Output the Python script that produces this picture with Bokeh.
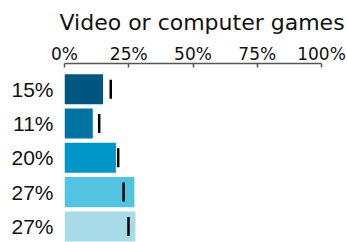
from bokeh.plotting import figure
from bokeh.models import Range1d, FixedTicker
from bokeh.embed import file_html
from bokeh.resources import INLINE

title_text = "Video or computer games"
labels = ["15%", "11%", "20%", "27%", "27%"]
values = [15, 11, 20, 27.2, 27.6]
markers = [18.0, 13.5, 20.9, 23.0, 24.9]
colors = ["#00567f", "#0073a5", "#0096c8", "#52c3e1", "#a8dbe8"]
x_ticks = [0, 25, 50, 75, 100]
x_tick_labels = ["0%", "25%", "50%", "75%", "100%"]

idx = list(range(len(values)))

p = figure(width=347, height=242, output_backend="svg", toolbar_location=None,
           x_range=Range1d(0, 100), y_range=Range1d(4.47, -0.753),
           x_axis_location="above", min_border_left=64, min_border_right=26,
           min_border_bottom=0, min_border_top=63)

p.hbar(y=idx, left=0, right=values, height=0.876, fill_color=colors, line_color=None)
p.rect(x=markers, y=idx, width=2.5, height=19, width_units="screen", height_units="screen",
       fill_color="black", line_color=None)

p.title.text = title_text
p.title.text_font = "DejaVu Sans"
p.title.text_font_size = "22px"
p.title.text_font_style = "normal"
p.title.text_color = "#111111"
p.title.align = "left"
p.title.offset = -5
p.title.standoff = 12

xa = p.xaxis[0]
xa.ticker = FixedTicker(ticks=x_ticks)
xa.major_label_overrides = {t: l for t, l in zip(x_ticks, x_tick_labels)}
xa.major_label_text_font = "DejaVu Sans"
xa.major_label_text_font_size = "17px"
xa.major_label_text_color = "#111111"
xa.axis_line_color = "#555555"
xa.axis_line_width = 1.5
xa.major_tick_line_color = "#555555"
xa.major_tick_line_width = 1.5
xa.major_tick_in = 4
xa.major_tick_out = 0
xa.minor_tick_line_color = None
xa.major_label_standoff = 0

ya = p.yaxis[0]
ya.ticker = FixedTicker(ticks=idx)
ya.major_label_overrides = {i: l for i, l in zip(idx, labels)}
ya.major_label_text_font = "Liberation Sans"
ya.major_label_text_font_size = "21px"
ya.major_label_text_color = "#111111"
ya.axis_line_color = None
ya.major_tick_line_color = None
ya.minor_tick_line_color = None
ya.major_label_standoff = 5

p.grid.visible = False
p.outline_line_color = None

open("out.html", "w").write(file_html(p, INLINE))
